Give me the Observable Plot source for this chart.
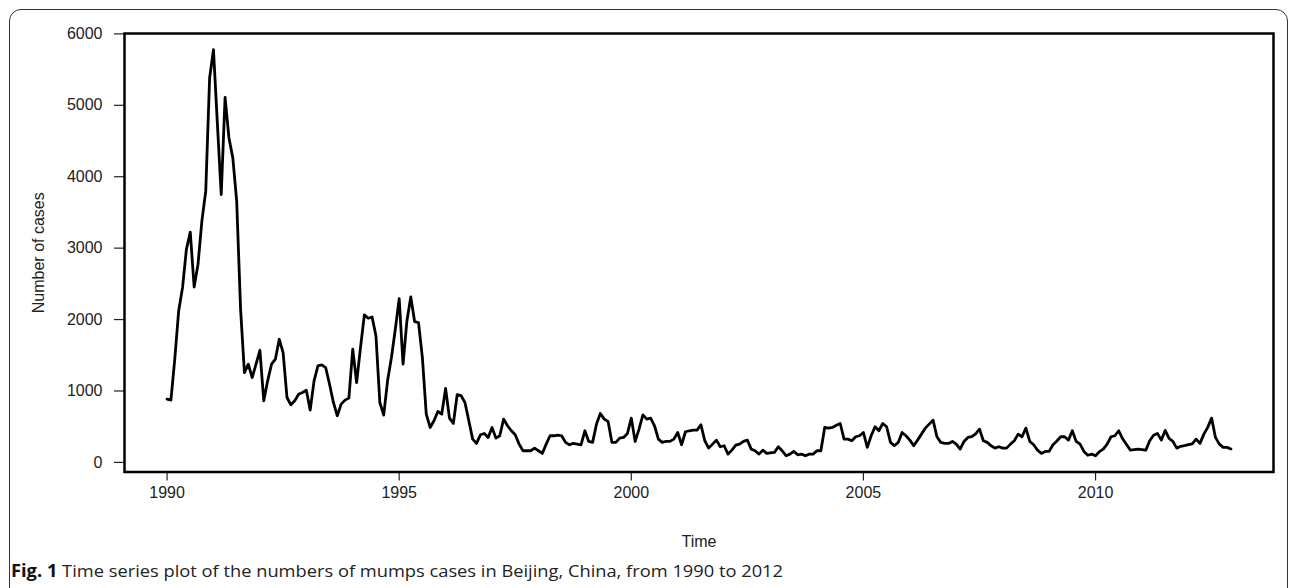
<!DOCTYPE html>
<html>
<head>
<meta charset="utf-8">
<script src="https://cdn.jsdelivr.net/npm/d3@7"></script>
<script src="https://cdn.jsdelivr.net/npm/@observablehq/plot@0.6"></script>
<style>
html, body { margin: 0; padding: 0; background: #fff; overflow: hidden; width: 1290px; height: 588px; }
#wrap { position: relative; width: 1290px; height: 588px; }
#border { position: absolute; left: 9px; top: 9px; width: 1279px; height: 640px; border: 1.5px solid #333; border-radius: 12px; box-sizing: border-box; }
#chart { position: absolute; left: 0; top: 0; }
#caption { position: absolute; left: 11px; top: 560px; font-family: "Open Sans", "Noto Sans", sans-serif; font-size: 17px; line-height: 22px; color: #222; white-space: nowrap; transform-origin: left center; }
#caption b { color: #111; }
</style>
</head>
<body>
<div id="wrap">
  <div id="border"></div>
  <div id="chart"></div>
  <div id="caption"></div>
</div>
<script>
// Monthly mumps cases in Beijing, Jan 1990 – Dec 2012
const startYear = 1990;
const cases = [
  885, 871, 1450, 2120, 2447, 2982, 3225, 2456, 2773, 3378, 3798, 5382,   // 1990
  5778, 4750, 3751, 5112, 4543, 4264, 3658, 2150, 1258, 1375, 1188, 1375, // 1991
  1570, 862, 1142, 1375, 1445, 1724, 1538, 909, 806, 862, 955, 980,       // 1992
  1011, 732, 1142, 1351, 1365, 1328, 1095, 839, 653, 816, 872, 900,       // 1993
  1585, 1118, 1608, 2065, 2018, 2036, 1771, 839, 662, 1142, 1468, 1864,   // 1994
  2293, 1375, 1981, 2316, 1971, 1957, 1468, 676, 489, 583, 713, 676,      // 1995
  1035, 620, 545, 950, 935, 839, 582, 326, 266, 387, 405, 349,            // 1996
  489, 340, 373, 606, 513, 443, 387, 256, 163, 163, 163, 200,             // 1997
  163, 126, 256, 373, 373, 382, 373, 280, 247, 266, 256, 247,             // 1998
  443, 294, 280, 536, 685, 606, 573, 280, 280, 340, 349, 405,             // 1999
  620, 294, 466, 666, 606, 620, 513, 326, 280, 294, 294, 326,             // 2000
  419, 247, 429, 443, 452, 452, 527, 303, 200, 256, 312, 219,             // 2001
  233, 116, 172, 242, 256, 294, 312, 186, 163, 116, 172, 126,             // 2002
  135, 140, 219, 163, 93, 116, 154, 107, 116, 93, 116, 116,               // 2003
  163, 163, 489, 480, 490, 520, 545, 326, 326, 303, 359, 373,             // 2004
  419, 210, 373, 499, 443, 545, 499, 280, 233, 280, 419, 373,             // 2005
  312, 233, 312, 396, 480, 536, 592, 359, 280, 266, 266, 294,             // 2006
  256, 186, 294, 350, 360, 400, 466, 303, 280, 233, 200, 219,             // 2007
  200, 200, 256, 303, 396, 359, 480, 294, 247, 172, 126, 154,             // 2008
  154, 247, 300, 359, 359, 312, 443, 294, 256, 154, 100, 116,             // 2009
  93, 150, 186, 256, 359, 373, 443, 330, 250, 172, 180, 186,              // 2010
  180, 172, 303, 380, 406, 312, 448, 335, 295, 200, 225, 235,             // 2011
  250, 260, 326, 266, 396, 490, 620, 350, 256, 210, 210, 187              // 2012
];
const xTicks = [1990, 1995, 2000, 2005, 2010];
const yTicks = [0, 1000, 2000, 3000, 4000, 5000, 6000];
const xLabel = "Time";
const yLabel = "Number of cases";
const captionBold = "Fig. 1";
const captionText = " Time series plot of the numbers of mumps cases in Beijing, China, from 1990 to 2012";

const series = cases.map((v, i) => ({t: startYear + i / 12, v}));

// R-style 4% axis extension
const tMin = startYear, tMax = startYear + (cases.length - 1) / 12;
const vMin = d3.min(cases), vMax = d3.max(cases);
const xPad = 0.04 * (tMax - tMin), yPad = 0.04 * (vMax - vMin);

const chart = Plot.plot({
  width: 1290,
  height: 555,
  marginLeft: 124,
  marginRight: 17,
  marginTop: 33,
  marginBottom: 83.5,
  style: {fontFamily: "'Liberation Sans', Arial, sans-serif", fontSize: "16px", color: "#222", background: "transparent", overflow: "visible"},
  x: {domain: [tMin - xPad, tMax + xPad]},
  y: {domain: [vMin - yPad, vMax + yPad]},
  marks: [
    Plot.axisX(xTicks, {tickSize: 9, tickPadding: 6, tickFormat: d => String(d), label: null, stroke: "#222", strokeWidth: 1.2}),
    Plot.axisY(yTicks, {tickSize: 10, tickPadding: 12, tickFormat: d => String(d), label: null, stroke: "#222", strokeWidth: 1.2}),
    Plot.line(series, {x: "t", y: "v", stroke: "#000", strokeWidth: 2.8, strokeLinejoin: "round"}),
    Plot.frame({stroke: "#000", strokeWidth: 2.5}),
    Plot.text([xLabel], {frameAnchor: "bottom", dy: 70, text: d => d, textAnchor: "middle", lineAnchor: "middle", fill: "#222"}),
    Plot.text([yLabel], {frameAnchor: "left", dx: -86, rotate: -90, text: d => d, textAnchor: "middle", lineAnchor: "middle", fill: "#222"})
  ]
});
document.getElementById("chart").appendChild(chart);

const cap = document.getElementById("caption");
const b = document.createElement("b");
b.textContent = captionBold;
cap.appendChild(b);
cap.appendChild(document.createTextNode(captionText));
const w = cap.getBoundingClientRect().width;
cap.style.transform = `scaleX(${772 / w})`;
</script>
</body>
</html>
